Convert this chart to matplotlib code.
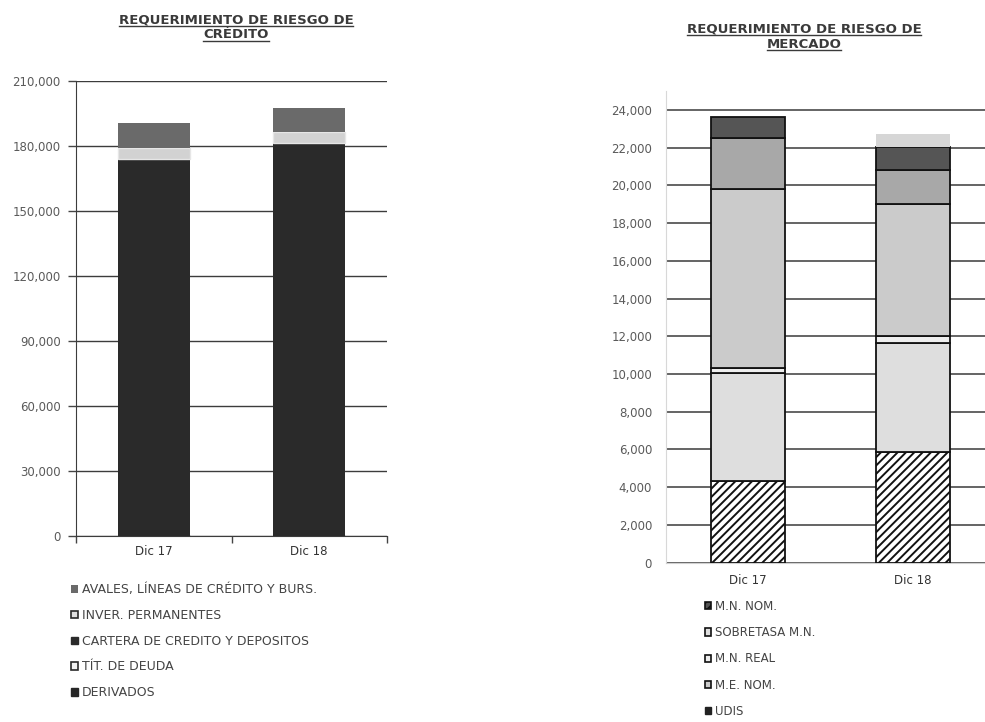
import matplotlib
matplotlib.use("Agg")
import matplotlib.pyplot as plt
import numpy as np
from matplotlib.patches import Patch
from matplotlib.lines import Line2D

plt.rcParams['font.family'] = ['DejaVu Sans']
plt.rcParams['hatch.linewidth'] = 1.4

# ---------------- data ----------------
periods = ["Dic 17", "Dic 18"]

# credit risk requirement (stacked bottom -> top)
credit_series = ["DERIVADOS", "TÍT. DE DEUDA", "CARTERA DE CREDITO Y DEPOSITOS",
                 "INVER. PERMANENTES", "AVALES, LÍNEAS DE CRÉDITO Y BURS."]
derivados = [0, 0]
tit_deuda = [0, 0]
cartera = [174000, 181400]
inver_perm = [5000, 5100]
avales = [11600, 11000]
credit_ticks = [0, 30000, 60000, 90000, 120000, 150000, 180000, 210000]

# market risk requirement (stacked bottom -> top)
market_series = ["M.N. NOM.", "SOBRETASA M.N.", "M.N. REAL", "M.E. NOM.",
                 "UDIS", "DIVISAS", "ACCIONES"]
mn_nom = [4350, 5890]
sobretasa_mn = [5700, 5780]
mn_real = [260, 360]
me_nom = [9500, 6990]
udis = [2700, 1770]
divisas = [1100, 1240]
acciones = [0, 670]
market_ticks = [0, 2000, 4000, 6000, 8000, 10000, 12000, 14000, 16000,
                18000, 20000, 22000, 24000]

W, H = 985, 722
fig = plt.figure(figsize=(W / 100, H / 100), dpi=100)
fig.patch.set_facecolor("white")

def fx(px):
    return px / W

def fy(py):
    return 1 - py / H

x = np.arange(len(periods))
label_color = "#5a5a5a"
tick_fs = 8.5

# ---------------- credit chart ----------------
ax1 = fig.add_axes([fx(76), fy(536.3), fx(311), (536.3 - 81.3) / H])
credit_vals = [derivados, tit_deuda, cartera, inver_perm, avales]
credit_fc = ["#262626", "#f2f2f2", "#2a2a2a", "#d2d2d2", "#6a6a6a"]
credit_ec = ["none", "#2a2a2a", "none", "#e6e6e6", "none"]
bottom = np.zeros(len(periods))
for vals, fc, ec in zip(credit_vals, credit_fc, credit_ec):
    vals = np.array(vals, dtype=float)
    ax1.bar(x, vals, width=0.46, bottom=bottom, color=fc, edgecolor=ec,
            linewidth=1.0, zorder=3)
    bottom += vals
ax1.set_xlim(-0.5, 1.5)
ax1.set_ylim(0, 210000)
ax1.set_yticks(credit_ticks)
ax1.set_yticklabels([f"{v:,}" for v in credit_ticks])
ax1.set_xticks(x)
ax1.set_xticklabels(periods)
ax1.set_xticks([-0.5, 0.5, 1.5], minor=True)
ax1.tick_params(axis="x", which="major", length=0, pad=6, labelsize=tick_fs,
                labelcolor="#333333")
ax1.tick_params(axis="x", which="minor", length=5, width=1, color="#444444",
                direction="out")
ax1.tick_params(axis="y", length=6, width=1, color="#444444", pad=5,
                labelsize=tick_fs, labelcolor=label_color)
ax1.grid(axis="y", color="#3c3c3c", linewidth=1.0, zorder=1)
for s in ["top", "right"]:
    ax1.spines[s].set_visible(False)
ax1.spines["left"].set_color("#3c3c3c")
ax1.spines["bottom"].set_color("#3c3c3c")
ax1.set_facecolor("white")

# credit legend (top of stack listed first)
credit_handles = [
    Patch(facecolor="#6a6a6a", edgecolor="none"),
    Patch(facecolor="#e0e0e0", edgecolor="#2a2a2a", linewidth=1.2),
    Patch(facecolor="#2a2a2a", edgecolor="#2a2a2a"),
    Patch(facecolor="#f2f2f2", edgecolor="#2a2a2a", linewidth=1.2),
    Patch(facecolor="#262626", edgecolor="#262626"),
]
credit_labels = [credit_series[4], credit_series[3], credit_series[2],
                 credit_series[1], credit_series[0]]
fig.legend(credit_handles, credit_labels, loc="upper left",
           bbox_to_anchor=(fx(65), fy(577)), frameon=False, fontsize=9,
           handlelength=0.55, handleheight=0.55, handletextpad=0.3,
           labelspacing=1.02, borderpad=0, labelcolor="#444444")

# ---------------- market chart ----------------
ax2 = fig.add_axes([fx(666), fy(562.7), fx(329), (562.7 - 91) / H])
market_vals = [mn_nom, sobretasa_mn, mn_real, me_nom, udis, divisas, acciones]
market_fc = ["white", "#dedede", "#eeeeee", "#cbcbcb", "#a8a8a8", "#555555", "#d6d6d6"]
market_ec = ["#111111", "#111111", "#111111", "#111111", "#111111", "#111111", "none"]
market_hatch = ["////", None, None, None, None, None, None]
bottom = np.zeros(len(periods))
for vals, fc, ec, ht in zip(market_vals, market_fc, market_ec, market_hatch):
    vals = np.array(vals, dtype=float)
    ax2.bar(x, vals, width=0.45, bottom=bottom, color=fc, edgecolor=ec,
            linewidth=1.3, hatch=ht, zorder=3)
    bottom += vals
ax2.set_xlim(-0.5, 1.5)
ax2.set_ylim(0, 25000)
ax2.set_yticks(market_ticks)
ax2.set_yticklabels([f"{v:,}" for v in market_ticks])
ax2.set_xticks(x)
ax2.set_xticklabels(periods)
ax2.tick_params(axis="x", length=0, pad=8, labelsize=tick_fs, labelcolor="#333333")
ax2.tick_params(axis="y", length=0, pad=10, labelsize=tick_fs, labelcolor=label_color)
ax2.grid(axis="y", color="#3a3a3a", linewidth=1.1, zorder=1)
for s in ["top", "right"]:
    ax2.spines[s].set_visible(False)
ax2.spines["left"].set_color("#d8d8d8")
ax2.spines["bottom"].set_color("#d0d0d0")
ax2.set_facecolor("white")

market_handles = [
    Patch(facecolor="#555555", edgecolor="#111111", hatch="////", linewidth=1.2),
    Patch(facecolor="#dedede", edgecolor="#111111", linewidth=1.2),
    Patch(facecolor="#eeeeee", edgecolor="#111111", linewidth=1.2),
    Patch(facecolor="#cbcbcb", edgecolor="#111111", linewidth=1.2),
    Patch(facecolor="#222222", edgecolor="#222222", linewidth=1.0),
]
fig.legend(market_handles, market_series[:5], loc="upper left",
           bbox_to_anchor=(fx(699), fy(594)), frameon=False, fontsize=8.5,
           handlelength=0.55, handleheight=0.55, handletextpad=0.3,
           labelspacing=1.12, borderpad=0, labelcolor="#444444")

# ---------------- underlined titles ----------------
title_texts = []
for cx, lines, y0 in [(236, ["REQUERIMIENTO DE RIESGO DE", "CRÉDITO"], 20),
                      (804, ["REQUERIMIENTO DE RIESGO DE", "MERCADO"], 29)]:
    for i, line in enumerate(lines):
        t = fig.text(fx(cx), fy(y0 + i * 15), line, ha="center", va="center",
                     fontsize=9.5, fontweight="bold", color="#3a3a3a")
        title_texts.append(t)

fig.canvas.draw()
renderer = fig.canvas.get_renderer()
for t in title_texts:
    bb = t.get_window_extent(renderer)
    yline = bb.y0 + 1.0
    fig.add_artist(Line2D([bb.x0 / W, bb.x1 / W], [yline / H, yline / H],
                          transform=fig.transFigure, color="#3a3a3a",
                          linewidth=1.0))

fig.savefig("out.png", dpi=100)
